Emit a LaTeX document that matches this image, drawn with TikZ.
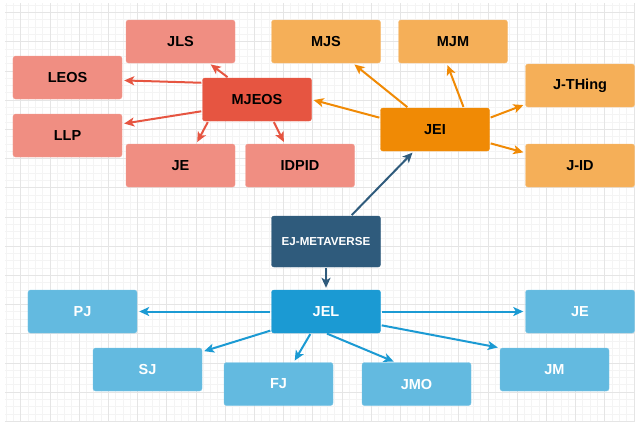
\documentclass[tikz,border=0pt]{standalone}
\usepackage{fontspec}
\setmainfont{Liberation Sans}
\usetikzlibrary{arrows.meta}
\definecolor{redlt}{HTML}{F08E82}
\definecolor{reddk}{HTML}{E65541}
\definecolor{orglt}{HTML}{F5AF58}
\definecolor{orgdk}{HTML}{F08A05}
\definecolor{bluelt}{HTML}{63BAE0}
\definecolor{bluedk}{HTML}{1B9AD3}
\definecolor{navy}{HTML}{2F5B7C}
\tikzset{
  box/.style={rectangle, rounded corners=2.5bp, minimum width=109bp, minimum height=43bp, inner sep=0pt, font=\fontsize{14.5bp}{17bp}\selectfont\bfseries},
  redbox/.style={box, fill=redlt, draw=redlt!85!white},
  redmain/.style={box, fill=reddk, draw=reddk},
  orgbox/.style={box, fill=orglt, draw=orglt!85!white},
  orgmain/.style={box, fill=orgdk, draw=orgdk},
  bluebox/.style={box, fill=bluelt, draw=bluelt!85!white, text=white},
  bluemain/.style={box, fill=bluedk, draw=bluedk, text=white},
  link/.style={line width=2bp, -{Stealth[length=10bp,width=9bp,inset=2.5bp]}, shorten >=2bp, shorten <=1bp}
}
\begin{document}
\begin{tikzpicture}[x=1bp,y=-1bp]
\useasboundingbox (0,0) rectangle (635,422);
% background grid
\foreach \gx in {6.1,13.4,...,635} \draw[gray!9, line width=0.7bp] (\gx,3) -- (\gx,422);
\foreach \gy in {5.2,12.5,...,422} \draw[gray!9, line width=0.7bp] (5,\gy) -- (635,\gy);
\foreach \gx in {20.7,49.9,...,635} \draw[gray!20, line width=0.8bp] (\gx,3) -- (\gx,422);
\foreach \gy in {12.5,41.7,...,422} \draw[gray!20, line width=0.8bp] (5,\gy) -- (635,\gy);
% red group
\node[redmain] (mjeos) at (257,99.5) {MJEOS};
\node[redbox] (jls) at (180.5,41.5) {JLS};
\node[redbox] (leos) at (67.5,77.5) {LEOS};
\node[redbox] (llp) at (67.5,135.5) {LLP};
\node[redbox] (jered) at (180.5,165.5) {JE};
\node[redbox] (idpid) at (300,165.5) {IDPID};
% orange group
\node[orgmain] (jei) at (435,129.5) {JEI};
\node[orgbox] (mjs) at (326,41.5) {MJS};
\node[orgbox] (mjm) at (453,41.5) {MJM};
\node[orgbox] (jthing) at (580,85.5) {J-THing};
\node[orgbox] (jid) at (580,165.5) {J-ID};
% blue group
\node[box, fill=navy, draw=navy, text=white, minimum height=51bp, font=\fontsize{11.6bp}{13bp}\selectfont\bfseries] (ejm) at (326,241.5) {EJ-METAVERSE};
\node[bluemain] (jel) at (326,311.5) {JEL};
\node[bluebox] (pj) at (82.5,311.5) {PJ};
\node[bluebox] (sj) at (147.5,369.5) {SJ};
\node[bluebox] (fj) at (278.5,384) {FJ};
\node[bluebox] (jmo) at (416.5,384) {JMO};
\node[bluebox] (jeblue) at (580,311.5) {JE};
\node[bluebox] (jm) at (554.5,369.5) {JM};
% links
\draw[link, reddk] (mjeos) -- (jls);
\draw[link, reddk] (mjeos.163) -- (leos.-3);
\draw[link, reddk] (mjeos.192) -- (llp.12);
\draw[link, reddk] (mjeos.204) -- (jered.54);
\draw[link, reddk] (mjeos.307) -- (idpid.125);
\draw[link, orgdk] (jei.168) -- (mjeos.east);
\draw[link, orgdk] (jei) -- (mjs);
\draw[link, orgdk] (jei.37) -- (mjm.254);
\draw[link, orgdk] (jei.12) -- (jthing.199);
\draw[link, orgdk] (jei.346) -- (jid.167);
\draw[link, navy] (ejm) -- (jei);
\draw[link, navy] (ejm) -- (jel);
\draw[link, bluedk] (jel) -- (pj);
\draw[link, bluedk] (jel.199) -- (sj.18);
\draw[link, bluedk] (jel.235) -- (fj.55);
\draw[link, bluedk] (jel.south) -- (jmo.134);
\draw[link, bluedk] (jel) -- (jeblue);
\draw[link, bluedk] (jel.346) -- (jm.north west);
\end{tikzpicture}
\end{document}
